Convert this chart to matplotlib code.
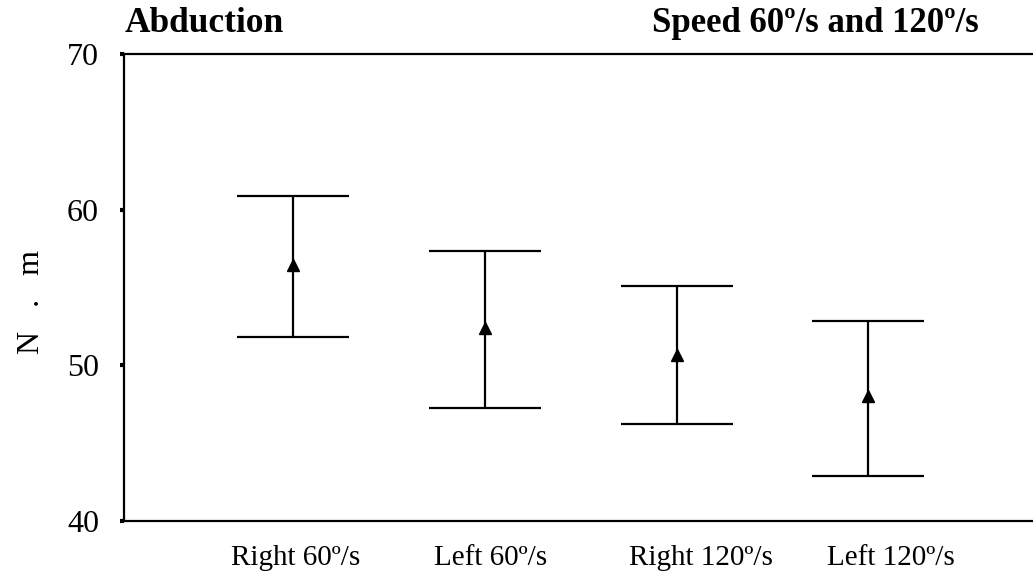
import matplotlib
matplotlib.use("Agg")
import matplotlib.pyplot as plt
import matplotlib.transforms as mtransforms

categories = ["Right 60º/s", "Left 60º/s", "Right 120º/s", "Left 120º/s"]
means = [56.45, 52.4, 50.67, 48.03]
upper = [60.88, 57.35, 55.1, 52.85]
lower = [51.82, 47.26, 46.24, 42.9]
yticks = [40, 50, 60, 70]

plt.rcParams['font.family'] = ['Liberation Serif', 'DejaVu Serif']

fig = plt.figure(figsize=(10.33, 5.73), dpi=100)
ax = fig.add_axes([124/1033, 1 - 521/573, 1 - 124/1033 + 0.01, (521-54)/573])

x = list(range(1, len(categories) + 1))
err_lo = [m - l for m, l in zip(means, lower)]
err_hi = [u - m for m, u in zip(means, upper)]
ax.errorbar(x, means, yerr=[err_lo, err_hi], fmt='^', color='black',
            ecolor='black', elinewidth=1.6, capsize=40, capthick=1.6,
            markersize=9)

ax.set_xlim(0.118, 4.913)
ax.set_ylim(40, 70)
ax.set_yticks(yticks)
ax.set_xticks(x)
ax.set_xticklabels(categories)

for s in ['left', 'top', 'bottom']:
    ax.spines[s].set_linewidth(1.6)
ax.spines['right'].set_visible(False)

ax.tick_params(axis='y', direction='out', length=3, width=3, pad=15, labelsize=23)
ax.tick_params(axis='x', length=0, pad=17, labelsize=21)

# small horizontal shifts of x tick labels (layout)
shifts_px = [3, 6, 24, 23]
for lab, dx in zip(ax.get_xticklabels(), shifts_px):
    lab.set_transform(lab.get_transform() + mtransforms.ScaledTranslation(dx/100, 0, fig.dpi_scale_trans))

ax.set_ylabel("N   .   m", fontsize=23)
ax.yaxis.set_label_coords(-0.085, 0.469)

fig.text(125/1033, 1 - 24/573, "Abduction", fontsize=25.5, fontweight='bold',
         ha='left', va='center')
fig.text(979/1033, 1 - 24/573, "Speed 60º/s and 120º/s", fontsize=25,
         fontweight='bold', ha='right', va='center')

fig.savefig("out.png", dpi=100)
